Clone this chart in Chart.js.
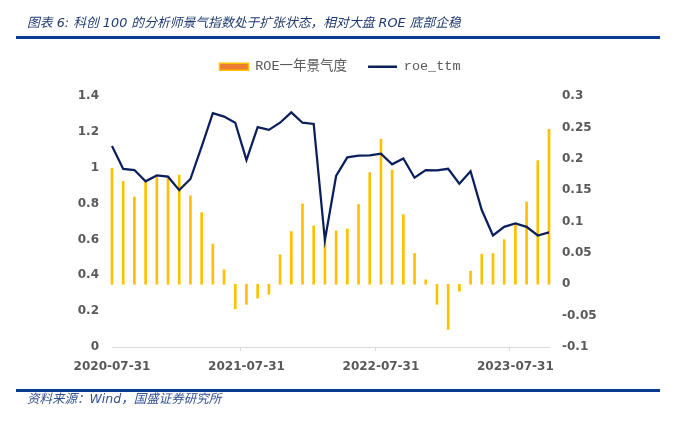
<!DOCTYPE html>
<html>
<head>
<meta charset="utf-8">
<script src="https://cdn.jsdelivr.net/npm/chart.js@4.4.1/dist/chart.umd.min.js"></script>
<style>
html,body{margin:0;padding:0;background:#fff;}
#wrap{position:relative;width:700px;height:423px;overflow:hidden;background:#fff;}
#c{position:absolute;left:0;top:0;}
.title{position:absolute;left:27px;top:14px;font-style:italic;font-size:12.8px;font-family:"DejaVu Sans","Noto Sans CJK SC",sans-serif;color:#1f3a70;white-space:pre;line-height:18px;}
.rule{position:absolute;left:16px;width:644px;height:3px;background:#0a3b93;}
.src{position:absolute;left:27px;top:391px;font-style:italic;font-size:12.5px;font-family:"DejaVu Sans","Noto Sans CJK SC",sans-serif;color:#34508f;white-space:pre;line-height:16px;}
</style>
</head>
<body>
<div id="wrap">
  <canvas id="c" width="700" height="423"></canvas>
  <div class="title" id="title"></div>
  <div class="rule" style="top:36px;"></div>
  <div class="rule" style="top:389px;"></div>
  <div class="src" id="src"></div>
</div>
<script>
// ---- data ----
const titleText = "图表 6: 科创 100 的分析师景气指数处于扩张状态，相对大盘 ROE 底部企稳";
const sourceText = "资料来源：Wind，国盛证券研究所";
const seriesNames = ["ROE一年景气度", "roe_ttm"];
const categories = [
  "2020-07-31","2020-08-31","2020-09-30","2020-10-31","2020-11-30","2020-12-31",
  "2021-01-31","2021-02-28","2021-03-31","2021-04-30","2021-05-31","2021-06-30",
  "2021-07-31","2021-08-31","2021-09-30","2021-10-31","2021-11-30","2021-12-31",
  "2022-01-31","2022-02-28","2022-03-31","2022-04-30","2022-05-31","2022-06-30",
  "2022-07-31","2022-08-31","2022-09-30","2022-10-31","2022-11-30","2022-12-31",
  "2023-01-31","2023-02-28","2023-03-31","2023-04-30","2023-05-31","2023-06-30",
  "2023-07-31","2023-08-31","2023-09-30","2023-10-31"
];
const shownDateLabels = ["2020-07-31","2021-07-31","2022-07-31","2023-07-31"];
// ROE一年景气度 (right axis)
const sentiment = [
  0.185, 0.164, 0.139, 0.163, 0.171, 0.170, 0.174, 0.141, 0.114, 0.064,
  0.023, -0.039, -0.032, -0.022, -0.016, 0.047, 0.084, 0.128, 0.093, 0.071,
  0.085, 0.088, 0.127, 0.178, 0.231, 0.182, 0.111, 0.049, 0.007, -0.032,
  -0.072, -0.011, 0.021, 0.048, 0.049, 0.071, 0.094, 0.131, 0.197, 0.247
];
// roe_ttm (left axis)
const roeTtm = [
  1.121, 0.993, 0.987, 0.924, 0.957, 0.950, 0.875, 0.937, 1.117, 1.304,
  1.285, 1.251, 1.043, 1.226, 1.211, 1.251, 1.309, 1.251, 1.244, 0.596,
  0.954, 1.058, 1.067, 1.069, 1.078, 1.019, 1.052, 0.944, 0.987, 0.985,
  0.994, 0.911, 0.980, 0.764, 0.622, 0.670, 0.689, 0.670, 0.622, 0.639
];
const leftTicks = {min: 0, max: 1.4, step: 0.2};
const rightTicks = {min: -0.1, max: 0.3, step: 0.05};

document.getElementById('title').textContent = titleText;
document.getElementById('src').textContent = sourceText;

const axisFont = {family: '"DejaVu Sans", Verdana, sans-serif', size: 12, weight: 'bold'};
const axisColor = '#595959';
const lineColor = '#0b1f5c';
const barColor = '#FFC000';

new Chart(document.getElementById('c'), {
  type: 'bar',
  data: {
    labels: categories,
    datasets: [
      {type: 'bar', label: seriesNames[0], data: sentiment, yAxisID: 'y1', xAxisID: 'x',
       backgroundColor: barColor, borderWidth: 0, barThickness: 2, clip: false, order: 2},
      {type: 'line', label: seriesNames[1], data: roeTtm, yAxisID: 'y', xAxisID: 'x',
       borderColor: lineColor, backgroundColor: lineColor, borderWidth: 2.25, pointRadius: 0,
       tension: 0, fill: false, order: 1}
    ]
  },
  options: {
    responsive: false,
    animation: false,
    layout: {padding: {top: 39, right: 20, left: 0, bottom: 0}},
    plugins: {
      tooltip: {enabled: false},
      title: {display: false},
      legend: {
        display: true,
        position: 'top',
        labels: {
          usePointStyle: true,
          pointStyleWidth: 29,
          boxHeight: 7,
          padding: 21,
          color: axisColor,
          font: {family: '"Liberation Mono", "Noto Sans CJK SC", monospace', size: 13.5},
          generateLabels: () => [
            {text: seriesNames[0], fillStyle: '#ED7D31', strokeStyle: '#FFC000', lineWidth: 1.5,
             pointStyle: 'rect', hidden: false, datasetIndex: 0, fontColor: axisColor},
            {text: seriesNames[1], fillStyle: lineColor, strokeStyle: lineColor, lineWidth: 2.5,
             pointStyle: 'line', hidden: false, datasetIndex: 1, fontColor: axisColor}
          ]
        }
      }
    },
    scales: {
      x: {
        type: 'category', position: 'bottom', offset: false,
        grid: {display: true, drawOnChartArea: false, drawTicks: true, tickLength: 4, lineWidth: 1,
               color: c => (shownDateLabels.includes(categories[c.index]) ? '#d9d9d9' : 'rgba(0,0,0,0)')},
        border: {display: true, color: '#d9d9d9', width: 1},
        ticks: {autoSkip: false, maxRotation: 0, minRotation: 0, padding: 9, color: axisColor, font: axisFont,
                callback: function(v, i) { const l = categories[i]; return shownDateLabels.includes(l) ? l : ''; }},
        afterFit: s => { s.height = 76; }
      },
      xTop: {
        type: 'category', position: 'top', offset: false, display: true,
        grid: {display: false, drawTicks: false}, border: {display: false}, ticks: {display: false},
        afterFit: s => { s.height = 12.5; }
      },
      y: {
        position: 'left', min: leftTicks.min, max: leftTicks.max,
        grid: {display: false, drawTicks: false}, border: {display: false},
        ticks: {stepSize: leftTicks.step, padding: 13, color: axisColor, font: axisFont,
                callback: v => String(Math.round(v * 10) / 10)},
        afterFit: s => { s.width = 112; }
      },
      y1: {
        position: 'right', min: rightTicks.min, max: rightTicks.max,
        grid: {display: false, drawTicks: false}, border: {display: false},
        ticks: {stepSize: rightTicks.step, padding: 13, color: axisColor, font: axisFont,
                callback: v => String(Math.round(v * 100) / 100)},
        afterFit: s => { s.width = 131; }
      }
    }
  }
});
</script>
</body>
</html>
